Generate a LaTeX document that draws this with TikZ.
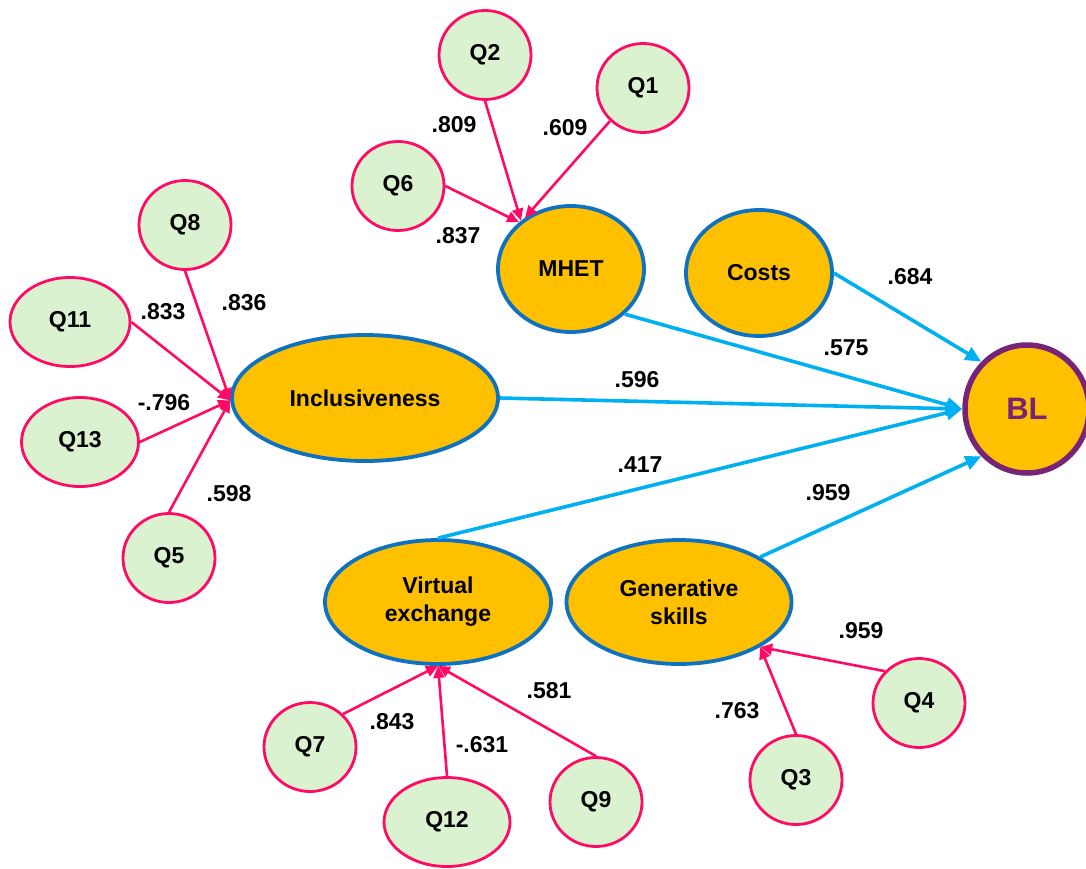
\documentclass[tikz,border=0pt]{standalone}
\usepackage{fontspec}
\setmainfont{Liberation Sans}
\usetikzlibrary{shapes.geometric,arrows.meta}
\definecolor{itemfill}{HTML}{DAF2D0}
\definecolor{itemline}{HTML}{FF0A64}
\definecolor{latfill}{HTML}{FFC000}
\definecolor{latline}{HTML}{0E72C0}
\definecolor{pathline}{HTML}{00B0F0}
\definecolor{blline}{HTML}{772478}
\tikzset{
  lbl/.style={font=\fontsize{23}{27}\selectfont\bfseries},
  item/.style={ellipse, draw=itemline, fill=itemfill, line width=2.8pt, inner sep=0pt,
    minimum width=92pt, minimum height=89pt, font=\fontsize{23}{27}\selectfont\bfseries},
  latent/.style={ellipse, draw=latline, fill=latfill, line width=3.8pt, inner sep=0pt,
    align=center, font=\fontsize{23}{28}\selectfont\bfseries},
  load/.style={draw=itemline, line width=2.6pt, -{Triangle[length=12pt,width=11pt]}},
  effect/.style={draw=pathline, line width=3.6pt, -{Triangle[length=16pt,width=14pt]}},
}
\begin{document}
\begin{tikzpicture}[x=1pt,y=-1pt]
\useasboundingbox (0,0) rectangle (1086,868);

% latent constructs
\node[latent, minimum width=146pt, minimum height=126pt] (mhet) at (571,269) {MHET};
\node[latent, minimum width=146pt, minimum height=126pt] (costs) at (759,273) {Costs};
\node[latent, minimum width=266pt, minimum height=126pt] (incl) at (365,398) {Inclusiveness};
\node[latent, minimum width=226pt, minimum height=124pt] (virt) at (438,602) {Virtual\\exchange};
\node[latent, minimum width=225pt, minimum height=124pt] (gen) at (679,602) {Generative\\skills};
\node[ellipse, draw=blline, fill=latfill, line width=5.5pt, inner sep=0pt,
  minimum width=124pt, minimum height=128pt, text=blline,
  font=\fontsize{31}{35}\selectfont\bfseries] (bl) at (1027,409) {BL};

% indicator items
\node[item] (q2) at (485,55) {Q2};
\node[item] (q1) at (643,88) {Q1};
\node[item] (q6) at (398,186) {Q6};
\node[item] (q8) at (185,225) {Q8};
\node[item, minimum width=120pt] (q11) at (70,322) {Q11};
\node[item, minimum width=117pt] (q13) at (80,442) {Q13};
\node[item] (q5) at (169,558) {Q5};
\node[item] (q7) at (310,747) {Q7};
\node[item, minimum width=126pt] (q12) at (447,822) {Q12};
\node[item] (q9) at (596,802) {Q9};
\node[item] (q3) at (796,780) {Q3};
\node[item] (q4) at (919,703) {Q4};

% loadings
\draw[load] (q2.south) -- (mhet.136);
\draw[load] (q1.225) -- (mhet.132);
\draw[load] (q6.east) -- (mhet.138);
\draw[load] (q8.south) -- (incl.181);
\draw[load] (q11.east) -- (incl.181);
\draw[load] (q13.east) -- (incl.181);
\draw[load] (q5.north) -- (incl.181);
\draw[load] (q7.45) -- (virt.south);
\draw[load] (q12.north) -- (virt.south);
\draw[load] (q9.north) -- (virt.south);
\draw[load] (q3.north) -- (gen.-29);
\draw[load] (q4.137) -- (gen.-29);

% structural paths
\draw[effect] (costs.east) -- (bl.134);
\draw[effect] (mhet.-40) -- (bl.180);
\draw[effect] (incl.east) -- (bl.180);
\draw[effect] (virt.north) -- (bl.180);
\draw[effect] (gen.29) -- (bl.226);

% coefficients
\node[lbl] (l809) at (454,125) {.809};
\node[lbl] (l609) at (565,128) {.609};
\node[lbl] (l837) at (458,236) {.837};
\node[lbl] (l836) at (244,303) {.836};
\node[lbl] (l833) at (163,312) {.833};
\node[lbl] (l796) at (164,403) {-.796};
\node[lbl] (l598) at (229,494) {.598};
\node[lbl] (l684) at (910,277) {.684};
\node[lbl] (l575) at (846,348) {.575};
\node[lbl] (l596) at (637,380) {.596};
\node[lbl] (l417) at (640,465) {.417};
\node[lbl] (l959a) at (828,493) {.959};
\node[lbl] (l959b) at (861,631) {.959};
\node[lbl] (l763) at (737,711) {.763};
\node[lbl] (l581) at (549,691) {.581};
\node[lbl] (l843) at (392,722) {.843};
\node[lbl] (l631) at (482,745) {-.631};
\end{tikzpicture}
\end{document}
